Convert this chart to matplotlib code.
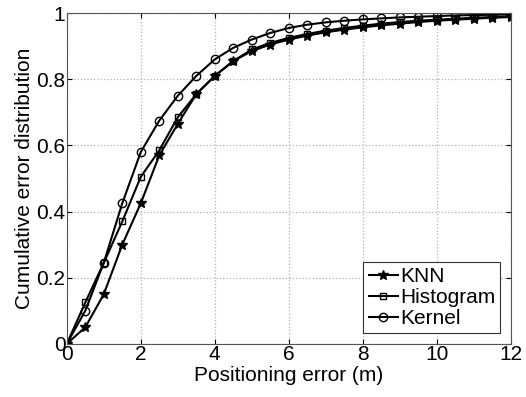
import numpy as np
import matplotlib
matplotlib.use("Agg")
import matplotlib.pyplot as plt

plt.rcParams['font.family'] = ['Liberation Sans', 'DejaVu Sans']

# datos
error_m = [0, 0.5, 1, 1.5, 2, 2.5, 3, 3.5, 4, 4.5, 5, 5.5, 6, 6.5, 7, 7.5, 8,
           8.5, 9, 9.5, 10, 10.5, 11, 11.5, 12]
knn = [0, 0.05, 0.15, 0.30, 0.425, 0.57, 0.665, 0.755, 0.81, 0.855, 0.885,
       0.905, 0.92, 0.932, 0.942, 0.95, 0.957, 0.963, 0.968, 0.973, 0.977,
       0.98, 0.983, 0.986, 0.988]
histogram = [0, 0.125, 0.245, 0.37, 0.505, 0.585, 0.685, 0.755, 0.81, 0.855,
             0.89, 0.91, 0.925, 0.937, 0.947, 0.955, 0.962, 0.968, 0.973,
             0.977, 0.98, 0.983, 0.986, 0.988, 0.99]
kernel = [0, 0.10, 0.245, 0.425, 0.58, 0.675, 0.75, 0.81, 0.86, 0.895, 0.92,
          0.94, 0.955, 0.965, 0.972, 0.977, 0.981, 0.984, 0.987, 0.989, 0.991,
          0.993, 0.994, 0.995, 0.996]

xticks = [0, 2, 4, 6, 8, 10, 12]
yticks = [0, 0.2, 0.4, 0.6, 0.8, 1]
ytick_labels = ["0", "0.2", "0.4", "0.6", "0.8", "1"]

fig = plt.figure(figsize=(5.26, 3.97), dpi=100)
ax = fig.add_axes([0.127, 0.134, 0.844, 0.833])

ax.plot(error_m, knn, '-*', color='black', lw=1.5, ms=7, label='KNN')
ax.plot(error_m, histogram, '-s', color='black', lw=1.5, ms=5,
        mfc='none', mew=1.0, label='Histogram')
ax.plot(error_m, kernel, '-o', color='black', lw=1.5, ms=6,
        mfc='none', mew=1.0, label='Kernel')

ax.set_xlim(0, 12)
ax.set_ylim(0, 1)
ax.set_xticks(xticks)
ax.set_yticks(yticks)
ax.set_yticklabels(ytick_labels)
ax.tick_params(direction='in', top=True, right=True, labelsize=15, pad=1)
ax.grid(True, linestyle=':', color='#b0b0b0', lw=0.9)

for s in ax.spines.values():
    s.set_color('#555555')

ax.set_xlabel("Positioning error (m)", fontsize=15, labelpad=1)
ax.set_ylabel("Cumulative error distribution", fontsize=15, labelpad=2)

leg = ax.legend(loc='lower right', fontsize=15, fancybox=False,
                framealpha=1, edgecolor='#333333', handlelength=1.4,
                handletextpad=0.1, borderpad=0.25, labelspacing=0.1,
                borderaxespad=0.5)
leg.get_frame().set_linewidth(0.8)

fig.savefig("out.png", dpi=100)
